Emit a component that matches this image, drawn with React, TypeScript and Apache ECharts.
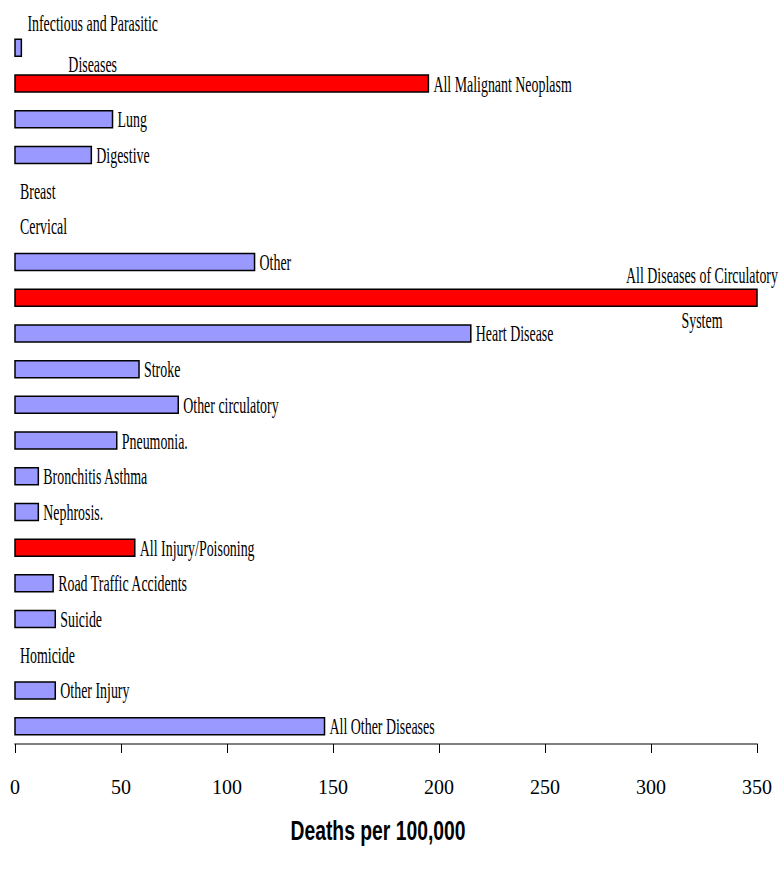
import React, { useEffect, useRef } from "react";
import * as echarts from "echarts";

const categories: string[] = [
  "Infectious and Parasitic Diseases",
  "All Malignant Neoplasm",
  "Lung",
  "Digestive",
  "Breast",
  "Cervical",
  "Other",
  "All Diseases of Circulatory System",
  "Heart Disease",
  "Stroke",
  "Other circulatory",
  "Pneumonia.",
  "Bronchitis Asthma",
  "Nephrosis.",
  "All Injury/Poisoning",
  "Road Traffic Accidents",
  "Suicide",
  "Homicide",
  "Other Injury",
  "All Other Diseases",
];

const deathsPer100k: number[] = [
  3, 195, 46, 36, 0, 0, 113, 350, 215, 58.5, 77, 48, 11, 11, 56.5, 18, 19, 0, 19, 146,
];

const totalCategories: string[] = [
  "All Malignant Neoplasm",
  "All Diseases of Circulatory System",
  "All Injury/Poisoning",
];

const wrappedLabels: Record<string, string[]> = {
  "Infectious and Parasitic Diseases": ["Infectious and Parasitic", "Diseases"],
  "All Diseases of Circulatory System": ["All Diseases of Circulatory", "System"],
};

const xMin = 0;
const xMax = 350;
const xInterval = 50;
const axisTitle = "Deaths per 100,000";

const BLUE = "#9999FF";
const RED = "#FF0000";
const LABEL_FONT_SIZE = 24;
const LABEL_FONT = '"Liberation Serif", "Times New Roman", serif';
const LABEL_SCALE = 0.58;
const BAR_H = 17;

let measureCtx: CanvasRenderingContext2D | null = null;
function measure(s: string): number {
  if (!measureCtx) {
    const c = document.createElement("canvas");
    measureCtx = c.getContext("2d");
  }
  if (!measureCtx) return s.length * 6;
  measureCtx.font = `${LABEL_FONT_SIZE}px ${LABEL_FONT}`;
  return measureCtx.measureText(s).width * LABEL_SCALE;
}

function textEl(s: string, x: number, y: number, align: string) {
  return {
    type: "text",
    x,
    y,
    scaleX: LABEL_SCALE,
    scaleY: 1,
    style: {
      text: s,
      x: 0,
      y: 0,
      fontSize: LABEL_FONT_SIZE,
      fontFamily: LABEL_FONT,
      fill: "#000",
      align,
      verticalAlign: "middle",
      textAlign: align,
      textVerticalAlign: "middle",
    },
  };
}

export default function App() {
  const ref = useRef<HTMLDivElement>(null);

  useEffect(() => {
    if (!ref.current) return;
    const chart = echarts.init(ref.current, null, { renderer: "svg" });

    const option: any = {
      animation: false,
      backgroundColor: "#ffffff",
      grid: { left: 15, right: 26, top: 30, bottom: 132, containLabel: false },
      xAxis: {
        type: "value",
        min: xMin,
        max: xMax,
        interval: xInterval,
        splitLine: { show: false },
        axisLine: { show: true, lineStyle: { color: "#808080", width: 2 } },
        axisTick: { show: true, length: 9, lineStyle: { color: "#000", width: 1 } },
        axisLabel: {
          show: true,
          margin: 33,
          color: "#000",
          fontSize: 20,
          fontFamily: LABEL_FONT,
        },
      },
      yAxis: {
        type: "category",
        data: categories,
        inverse: true,
        axisLine: { show: false },
        axisTick: { show: false },
        axisLabel: { show: false },
        splitLine: { show: false },
      },
      graphic: [
        {
          type: "text",
          x: 378,
          y: 830,
          scaleX: 0.69,
          style: {
            text: axisTitle,
            fontSize: 28,
            fontWeight: "bold",
            fontFamily: '"Liberation Sans", Arial, sans-serif',
            fill: "#000",
            align: "center",
            verticalAlign: "middle",
            textAlign: "center",
            textVerticalAlign: "middle",
          },
        },
      ],
      series: [
        {
          type: "custom",
          name: axisTitle,
          encode: { x: 0, y: 1 },
          data: deathsPer100k.map((v, i) => [v, i]),
          renderItem: (params: any, api: any) => {
            const v = api.value(0) as number;
            const idx = api.value(1) as number;
            const start = api.coord([0, idx]);
            const end = api.coord([v, idx]);
            const name = categories[idx];
            const isTotal = totalCategories.includes(name);
            const children: any[] = [];
            if (v > 0) {
              children.push({
                type: "rect",
                shape: {
                  x: start[0],
                  y: start[1] - BAR_H / 2,
                  width: end[0] - start[0],
                  height: BAR_H,
                },
                style: { fill: isTotal ? RED : BLUE, stroke: "#000", lineWidth: 1.5 },
              });
            }
            const lines = wrappedLabels[name];
            if (!lines) {
              children.push(textEl(name, end[0] + 5, end[1], "left"));
            } else {
              const maxW = Math.max(...lines.map(measure));
              let cx = end[0] + 6 + maxW / 2;
              let up = -25;
              let down = 16;
              if (end[0] + 6 + maxW > api.getWidth()) {
                cx = end[0] - 55;
                up = -23;
                down = 22;
              }
              children.push(textEl(lines[0], cx, end[1] + up, "center"));
              children.push(textEl(lines[1], cx, end[1] + down, "center"));
            }
            return { type: "group", children };
          },
        },
      ],
    };

    chart.setOption(option);
    return () => chart.dispose();
  }, []);

  return (
    <div
      ref={ref}
      style={{ position: "absolute", left: 0, top: 0, width: 783, height: 876 }}
    />
  );
}
